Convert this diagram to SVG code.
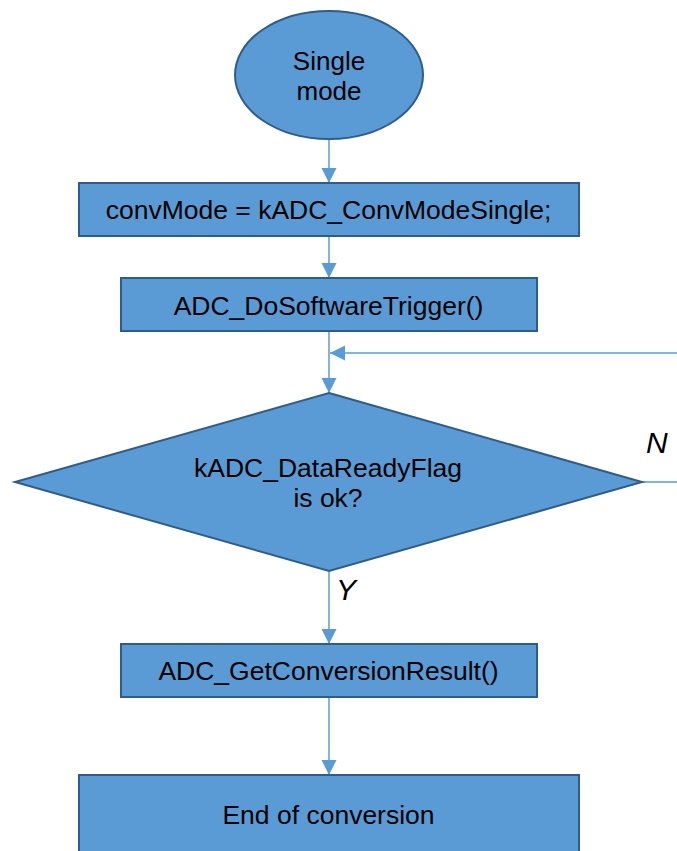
<svg xmlns="http://www.w3.org/2000/svg" width="677" height="851" viewBox="0 0 677 851">
  <style>
    .shape { fill: #5B9BD5; stroke: #2F5C8A; stroke-width: 2; }
    .conn { fill: none; stroke: #5B9BD5; stroke-width: 1.5; }
    .t { font-family: "Liberation Sans", Arial, sans-serif; fill: #000; text-anchor: middle; font-size: 26.5px; }
    .lbl { font-family: "Liberation Sans", Arial, sans-serif; font-style: italic; fill: #000; font-size: 30px; }
  </style>
  <defs>
    <marker id="arr" markerUnits="userSpaceOnUse" markerWidth="16" markerHeight="16" viewBox="0 0 16 16" refX="15" refY="8" orient="auto">
      <path d="M0,0.5 L15,8 L0,15.5 Z" fill="#5B9BD5"/>
    </marker>
  </defs>
  <rect width="677" height="851" fill="#FFFFFF"/>

  <g id="connectors">
    <line class="conn" x1="329" y1="139" x2="329" y2="183" marker-end="url(#arr)"/>
    <line class="conn" x1="329" y1="236" x2="329" y2="278" marker-end="url(#arr)"/>
    <line class="conn" x1="329" y1="331" x2="329" y2="393" marker-end="url(#arr)"/>
    <path class="conn" d="M642,482 H700 V353 H330" marker-end="url(#arr)"/>
    <line class="conn" x1="329" y1="571" x2="329" y2="644" marker-end="url(#arr)"/>
    <line class="conn" x1="329" y1="697" x2="329" y2="775" marker-end="url(#arr)"/>
    <text class="lbl" x="646" y="453">N</text>
    <text class="lbl" x="336" y="600">Y</text>
  </g>

  <g id="start">
    <ellipse class="shape" cx="329" cy="75" rx="94" ry="64"/>
    <text class="t" x="329" y="70" style="font-size:26px">Single</text>
    <text class="t" x="329" y="100" style="font-size:26px">mode</text>
  </g>

  <g id="setMode">
    <rect class="shape" x="79" y="183" width="500" height="53"/>
    <text class="t" x="328.5" y="219">convMode = kADC_ConvModeSingle;</text>
  </g>

  <g id="trigger">
    <rect class="shape" x="121" y="278" width="416" height="53"/>
    <text class="t" x="328.5" y="315">ADC_DoSoftwareTrigger()</text>
  </g>

  <g id="decision">
    <polygon class="shape" points="329,393 642,482 329,571 15,482"/>
    <text class="t" x="328" y="477">kADC_DataReadyFlag</text>
    <text class="t" x="328" y="507">is ok?</text>
  </g>

  <g id="getResult">
    <rect class="shape" x="121" y="644" width="416" height="53"/>
    <text class="t" x="328.5" y="680">ADC_GetConversionResult()</text>
  </g>

  <g id="end">
    <rect class="shape" x="79" y="775" width="500" height="100"/>
    <text class="t" x="328.5" y="824">End of conversion</text>
  </g>
</svg>
